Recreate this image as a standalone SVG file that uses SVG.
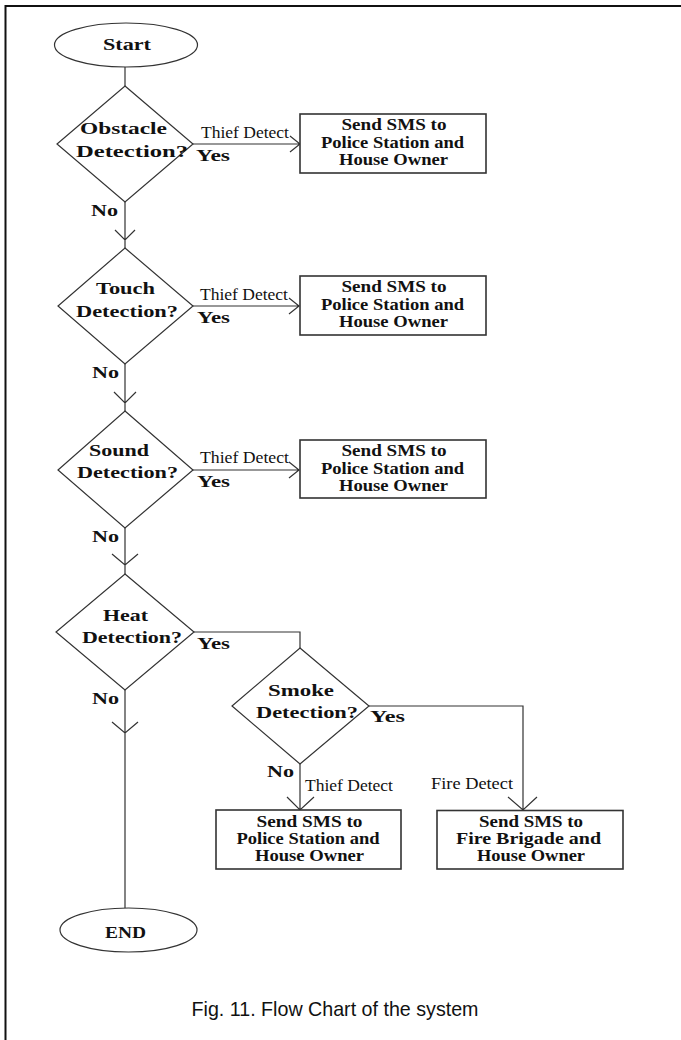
<svg xmlns="http://www.w3.org/2000/svg" width="681" height="1040" viewBox="0 0 681 1040">
<style>
.shape{fill:#fff;stroke:#333;stroke-width:1.2}
.box{fill:#fff;stroke:#333;stroke-width:1.6}
.ln{fill:none;stroke:#333;stroke-width:1.2}
.b{font-family:"Liberation Serif","Times New Roman",serif;font-weight:bold;font-size:17px;fill:#111}
.bs{font-family:"Liberation Serif","Times New Roman",serif;font-weight:bold;font-size:16px;fill:#111}
.r{font-family:"Liberation Serif","Times New Roman",serif;font-size:17px;fill:#111}
.cap{font-family:"Liberation Sans",Arial,sans-serif;font-size:21px;fill:#111}
</style>
<rect width="681" height="1040" fill="#fff"/>
<path d="M5.5,1040 V6 H681" fill="none" stroke="#111" stroke-width="2"/>

<g id="connectors">
  <path class="ln" d="M125,67 V86"/>
  <path class="ln" d="M193,144 H300 M290,136 L300,144 L290,152"/>
  <path class="ln" d="M125,202 V248 M115,230 L125,240 L135,230"/>
  <path class="ln" d="M193,306 H299 M289,298 L299,306 L289,314"/>
  <path class="ln" d="M125,364 V411 M114,392 L125,403 L136,392"/>
  <path class="ln" d="M193,470 H299 M289,462 L299,470 L289,478"/>
  <path class="ln" d="M125,528 V574 M112,554 L125,565 L138,554"/>
  <path class="ln" d="M194,632 H300 V648"/>
  <path class="ln" d="M369,706 H523 V810 M508,797 L523,810 L537,797"/>
  <path class="ln" d="M300,764 V810 M287,797 L300,810 L314,797"/>
  <path class="ln" d="M125,690 V908 M112,722 L125,733 L138,722"/>
  <text class="r" x="201" y="138" textLength="88" lengthAdjust="spacingAndGlyphs">Thief Detect</text>
  <text class="b" x="196" y="161" textLength="34" lengthAdjust="spacingAndGlyphs">Yes</text>
  <text class="b" x="91" y="216" textLength="27" lengthAdjust="spacingAndGlyphs">No</text>
  <text class="r" x="200" y="300" textLength="88" lengthAdjust="spacingAndGlyphs">Thief Detect</text>
  <text class="b" x="197" y="323" textLength="33" lengthAdjust="spacingAndGlyphs">Yes</text>
  <text class="b" x="92" y="378" textLength="27" lengthAdjust="spacingAndGlyphs">No</text>
  <text class="r" x="200" y="463" textLength="89" lengthAdjust="spacingAndGlyphs">Thief Detect</text>
  <text class="b" x="197" y="487" textLength="33" lengthAdjust="spacingAndGlyphs">Yes</text>
  <text class="b" x="92" y="542" textLength="27" lengthAdjust="spacingAndGlyphs">No</text>
  <text class="b" x="197" y="649" textLength="33" lengthAdjust="spacingAndGlyphs">Yes</text>
  <text class="b" x="92" y="704" textLength="27" lengthAdjust="spacingAndGlyphs">No</text>
  <text class="b" x="370" y="722" textLength="35" lengthAdjust="spacingAndGlyphs">Yes</text>
  <text class="b" x="267" y="777" textLength="27" lengthAdjust="spacingAndGlyphs">No</text>
  <text class="r" x="305" y="791" textLength="88" lengthAdjust="spacingAndGlyphs">Thief Detect</text>
  <text class="r" x="431" y="789" textLength="82" lengthAdjust="spacingAndGlyphs">Fire Detect</text>
</g>

<g id="start">
  <ellipse class="shape" cx="126" cy="45" rx="71.5" ry="22"/>
  <text class="b" x="103" y="50" font-size="19" textLength="48" lengthAdjust="spacingAndGlyphs">Start</text>
</g>

<g id="obstacle">
  <polygon class="shape" points="125,86 193,144 125,202 57,144"/>
  <text class="b" x="80" y="134" textLength="87" lengthAdjust="spacingAndGlyphs">Obstacle</text>
  <text class="b" x="76" y="157" textLength="112" lengthAdjust="spacingAndGlyphs">Detection?</text>
</g>
<g id="sms1">
  <rect class="box" x="300" y="114" width="186" height="59"/>
  <text class="b" text-anchor="middle" x="394" y="129.5" textLength="105" lengthAdjust="spacingAndGlyphs">Send SMS to</text>
  <text class="b" text-anchor="middle" x="392.5" y="147.5" textLength="143" lengthAdjust="spacingAndGlyphs">Police Station and</text>
  <text class="b" text-anchor="middle" x="393.5" y="165" textLength="109" lengthAdjust="spacingAndGlyphs">House Owner</text>
</g>

<g id="touch">
  <polygon class="shape" points="125,248 193,306 125,364 58,306"/>
  <text class="b" x="96" y="294" textLength="59" lengthAdjust="spacingAndGlyphs">Touch</text>
  <text class="b" x="76" y="317" textLength="102" lengthAdjust="spacingAndGlyphs">Detection?</text>
</g>
<g id="sms2">
  <rect class="box" x="300" y="276" width="186" height="59"/>
  <text class="b" text-anchor="middle" x="394" y="291.5" textLength="105" lengthAdjust="spacingAndGlyphs">Send SMS to</text>
  <text class="b" text-anchor="middle" x="392.5" y="309.5" textLength="143" lengthAdjust="spacingAndGlyphs">Police Station and</text>
  <text class="b" text-anchor="middle" x="393.5" y="327" textLength="109" lengthAdjust="spacingAndGlyphs">House Owner</text>
</g>

<g id="sound">
  <polygon class="shape" points="125,411 193,470 125,528 58,470"/>
  <text class="b" x="89" y="456" textLength="60" lengthAdjust="spacingAndGlyphs">Sound</text>
  <text class="b" x="77" y="478" textLength="101" lengthAdjust="spacingAndGlyphs">Detection?</text>
</g>
<g id="sms3">
  <rect class="box" x="300" y="440" width="186" height="58"/>
  <text class="b" text-anchor="middle" x="394" y="455.5" textLength="105" lengthAdjust="spacingAndGlyphs">Send SMS to</text>
  <text class="b" text-anchor="middle" x="392.5" y="473.5" textLength="143" lengthAdjust="spacingAndGlyphs">Police Station and</text>
  <text class="b" text-anchor="middle" x="393.5" y="491" textLength="109" lengthAdjust="spacingAndGlyphs">House Owner</text>
</g>

<g id="heat">
  <polygon class="shape" points="125,574 194,632 125,690 56,632"/>
  <text class="b" x="103" y="621" textLength="45" lengthAdjust="spacingAndGlyphs">Heat</text>
  <text class="b" x="82" y="643" textLength="100" lengthAdjust="spacingAndGlyphs">Detection?</text>
</g>

<g id="smoke">
  <polygon class="shape" points="300,648 369,706 300,764 232,706"/>
  <text class="b" x="268" y="696" textLength="66" lengthAdjust="spacingAndGlyphs">Smoke</text>
  <text class="b" x="256" y="718" textLength="102" lengthAdjust="spacingAndGlyphs">Detection?</text>
</g>

<g id="sms4">
  <rect class="box" x="216" y="810" width="185" height="59"/>
  <text class="bs" text-anchor="middle" x="309.5" y="826.5" textLength="106" lengthAdjust="spacingAndGlyphs">Send SMS to</text>
  <text class="bs" text-anchor="middle" x="308" y="843.5" textLength="143" lengthAdjust="spacingAndGlyphs">Police Station and</text>
  <text class="bs" text-anchor="middle" x="309.5" y="860.5" textLength="109" lengthAdjust="spacingAndGlyphs">House Owner</text>
</g>

<g id="sms5">
  <rect class="box" x="437" y="810.5" width="186" height="58.5"/>
  <text class="bs" text-anchor="middle" x="531" y="826.5" textLength="104" lengthAdjust="spacingAndGlyphs">Send SMS to</text>
  <text class="bs" text-anchor="middle" x="528.5" y="843.5" textLength="145" lengthAdjust="spacingAndGlyphs">Fire Brigade and</text>
  <text class="bs" text-anchor="middle" x="531" y="860.5" textLength="108" lengthAdjust="spacingAndGlyphs">House Owner</text>
</g>

<g id="end">
  <ellipse class="shape" cx="128.5" cy="930" rx="68.5" ry="22"/>
  <text class="b" x="105" y="938" textLength="41" lengthAdjust="spacingAndGlyphs">END</text>
</g>

<text class="cap" x="191.5" y="1016" textLength="287" lengthAdjust="spacingAndGlyphs">Fig. 11. Flow Chart of the system</text>
</svg>
